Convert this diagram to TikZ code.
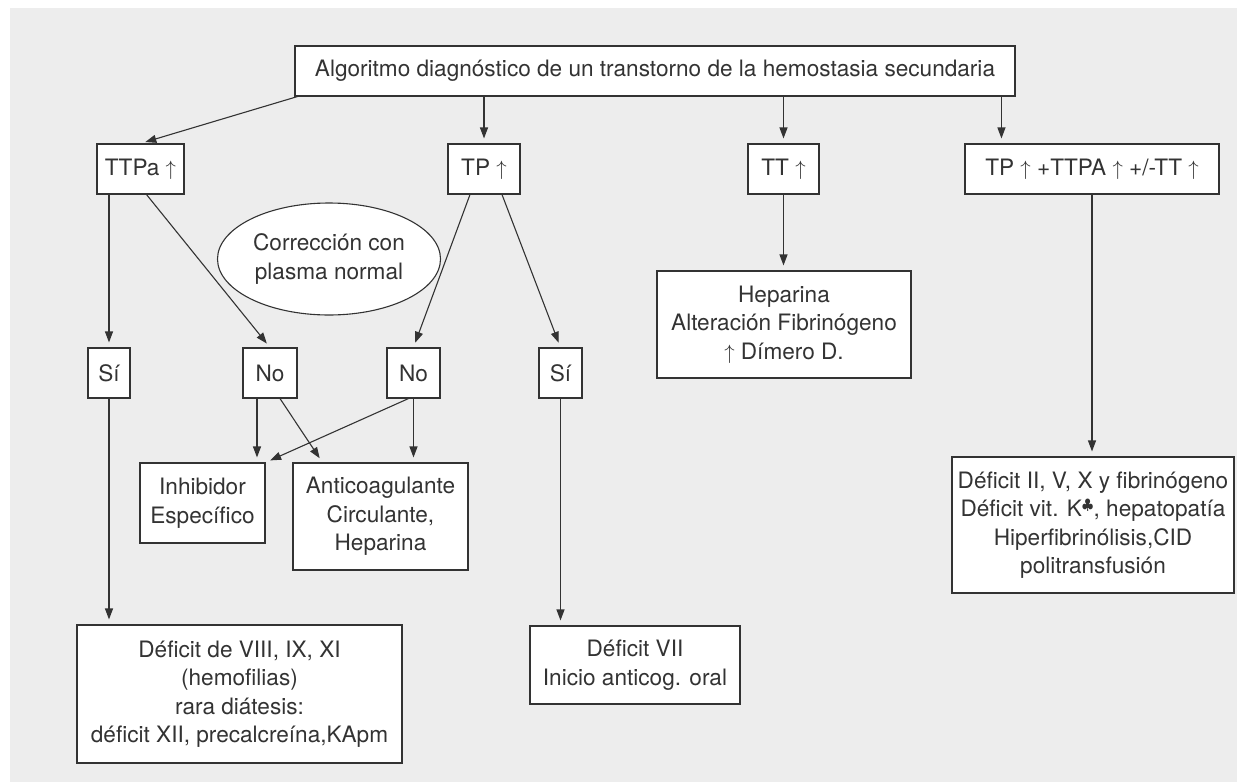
\documentclass[tikz,border=0pt]{standalone}
\usepackage{fontspec}
\usepackage{amssymb}
\setmainfont{TeX Gyre Heros}
\usetikzlibrary{arrows.meta,shapes.geometric}
\definecolor{fondo}{HTML}{EDEDED}
\definecolor{tinta}{HTML}{333333}

\begin{document}
\begin{tikzpicture}[x=1pt,y=-1pt,
  font=\fontsize{22.6}{28.5}\selectfont, text=tinta,
  caja/.style={draw=tinta,fill=white,line width=1.1pt,inner sep=0pt,align=center,minimum height=50pt},
  elipse/.style={ellipse,draw=tinta,fill=white,line width=1.1pt,inner sep=0pt,align=center},
  flecha/.style={draw=tinta,line width=1.1pt,-{Triangle[length=11pt,width=8pt]},shorten >=5pt}]
\useasboundingbox (0,0) rectangle (1237,782);
\fill[fondo] (10,8) rectangle (1237,782);

\node[caja,minimum width=720pt] (alg) at (655,71) {Algoritmo diagnóstico de un transtorno de la hemostasia secundaria};
\node[caja,minimum width=87pt] (ttpa) at (140.5,169) {TTPa $\uparrow$};
\node[caja,minimum width=72pt] (tp) at (484,169) {TP $\uparrow$};
\node[caja,minimum width=71pt] (tt) at (783.5,169) {TT $\uparrow$};
\node[caja,minimum width=254pt] (tpx) at (1092,169) {TP $\uparrow$ +TTPA $\uparrow$ +/-TT $\uparrow$};
\node[elipse,minimum width=223pt,minimum height=112pt] (corr) at (329,259) {Corrección con\\plasma normal};
\node[caja,minimum width=42pt] (si1) at (109,373) {Sí};
\node[caja,minimum width=54pt] (no1) at (270,373) {No};
\node[caja,minimum width=53pt] (no2) at (413.5,373) {No};
\node[caja,minimum width=43pt] (si2) at (560.5,373) {Sí};
\node[caja,minimum width=125pt,minimum height=80pt] (inh) at (202.5,503) {Inhibidor\\Específico};
\node[caja,minimum width=175pt,minimum height=107pt] (anti) at (380.5,516.5) {Anticoagulante\\Circulante,\\Heparina};
\node[caja,minimum width=254pt,minimum height=107pt] (hep) at (784,324.5) {Heparina\\Alteración Fibrinógeno\\$\uparrow$ Dímero D.};
\node[caja,minimum width=282pt,minimum height=136pt] (defr) at (1093,525) {Déficit II, V, X y fibrinógeno\\Déficit vit. K$^{\clubsuit}$, hepatopatía\\Hiperfibrinólisis,CID\\politransfusión};
\node[caja,minimum width=210pt,minimum height=78pt] (def7) at (635,665) {Déficit VII\\Inicio anticog. oral};
\node[caja,minimum width=325pt,minimum height=138pt] (def8) at (239.5,694) {Déficit de VIII, IX, XI\\(hemofilias)\\rara diátesis:\\déficit XII, precalcreína,KApm};

\draw[flecha] ([xshift=3pt]alg.south west) -- (ttpa.north);
\draw[flecha] (tp.north |- alg.south) -- (tp.north);
\draw[flecha] (tt.north |- alg.south) -- (tt.north);
\draw[flecha] ([xshift=37pt]tpx.north west |- alg.south) -- ([xshift=37pt]tpx.north west);
\draw[flecha] (si1.north |- ttpa.south) -- (si1.north);
\draw[flecha] ([xshift=6pt]ttpa.south) -- (no1.north);
\draw[flecha] ([xshift=-14pt]tp.south) -- (no2.north);
\draw[flecha] ([xshift=18pt]tp.south) -- (si2.north);
\draw[flecha] (tt.south) -- (tt.south |- hep.north);
\draw[flecha] (tpx.south) -- (tpx.south |- defr.north);
\draw[flecha] (si1.south) -- (si1.south |- def8.north);
\draw[flecha] (si2.south) -- (si2.south |- def7.north);
\draw[flecha] ([xshift=-13pt]no1.south) -- ([xshift=-13pt]no1.south |- inh.north);
\draw[flecha] ([xshift=10pt]no1.south) -- ([xshift=30pt]anti.north west);
\draw[flecha] ([xshift=-5pt]no2.south) -- (inh.north east);
\draw[flecha] (no2.south) -- (no2.south |- anti.north);
\end{tikzpicture}
\end{document}
